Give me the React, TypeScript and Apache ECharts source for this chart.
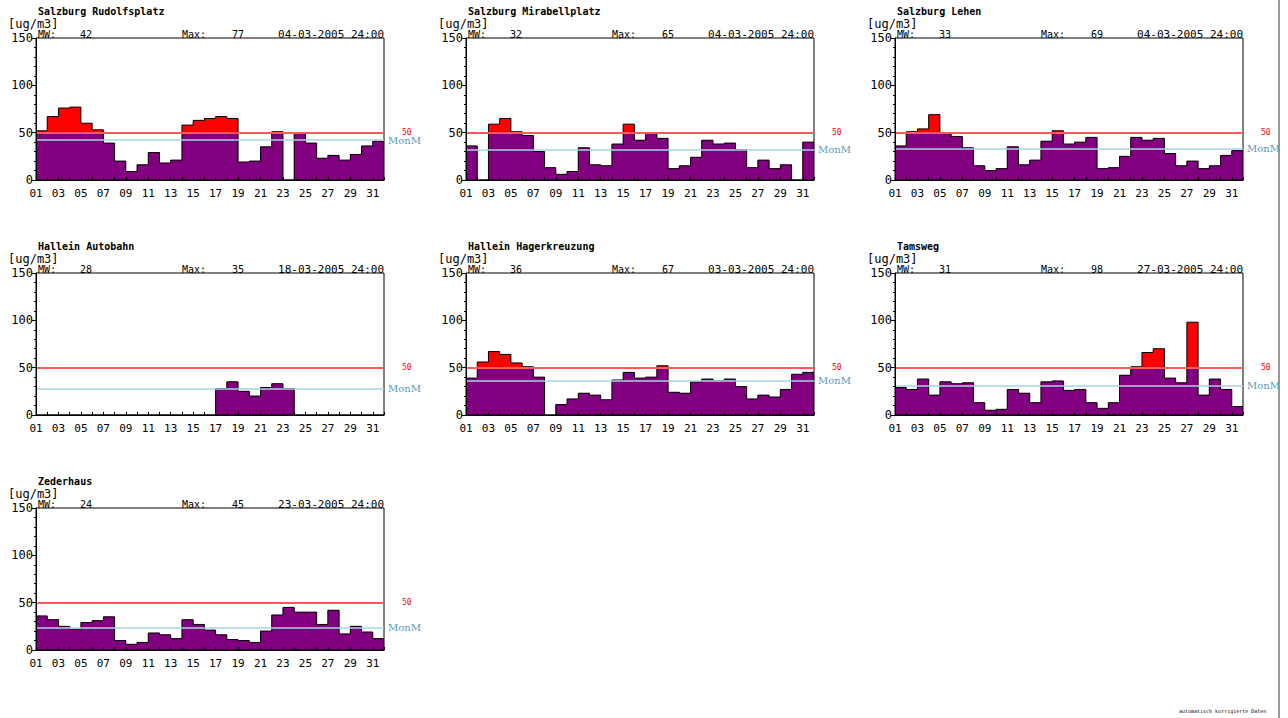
import React, { useEffect, useRef } from "react";
import * as echarts from "echarts";

// ---------- data ----------
const days = [
  "01", "02", "03", "04", "05", "06", "07", "08", "09", "10", "11", "12", "13", "14", "15", "16",
  "17", "18", "19", "20", "21", "22", "23", "24", "25", "26", "27", "28", "29", "30", "31",
];
const yTicks = [0, 50, 100, 150];
const limitValue = 50;

const stationNames = [
  "Salzburg Rudolfsplatz",
  "Salzburg Mirabellplatz",
  "Salzburg Lehen",
  "Hallein Autobahn",
  "Hallein Hagerkreuzung",
  "Tamsweg",
  "Zederhaus",
];
const meanValues = [42, 32, 33, 28, 36, 31, 24];
const maxValues = [77, 65, 69, 35, 67, 98, 45];
const maxDates = [
  "04-03-2005 24:00",
  "04-03-2005 24:00",
  "04-03-2005 24:00",
  "18-03-2005 24:00",
  "03-03-2005 24:00",
  "27-03-2005 24:00",
  "23-03-2005 24:00",
];

const rudolfsplatz = [52, 67, 76, 77, 60, 53, 39, 20, 9, 16, 29, 18, 21, 58, 63, 65, 67, 65, 19, 20, 35, 51, null, 50, 39, 23, 26, 21, 27, 36, 41];
const mirabellplatz = [36, null, 59, 65, 51, 47, 30, 13, 6, 9, 34, 16, 15, 38, 59, 42, 50, 44, 12, 15, 24, 42, 38, 39, 32, 13, 21, 12, 16, null, 40];
const lehen = [36, 51, 54, 69, 49, 46, 34, 15, 10, 12, 35, 16, 21, 41, 52, 38, 40, 45, 12, 13, 25, 45, 42, 44, 28, 15, 20, 12, 15, 26, 31];
const halleinAutobahn = [null, null, null, null, null, null, null, null, null, null, null, null, null, null, null, null, 28, 35, 25, 20, 29, 33, 28, null, null, null, null, null, null, null, null];
const hagerkreuzung = [39, 56, 67, 64, 55, 51, 40, null, 11, 17, 23, 21, 16, 37, 45, 39, 40, 52, 24, 23, 35, 38, 36, 38, 30, 17, 21, 19, 27, 43, 45];
const tamsweg = [29, 27, 38, 21, 35, 33, 34, 13, 5, 6, 27, 23, 13, 35, 36, 26, 27, 13, 7, 13, 42, 51, 66, 70, 39, 34, 98, 21, 38, 27, 9];
const zederhaus = [36, 32, 25, 22, 29, 31, 35, 10, 6, 8, 18, 16, 12, 32, 27, 21, 16, 11, 10, 8, 20, 37, 45, 40, 40, 27, 42, 17, 25, 19, 12];

const stationValues = [rudolfsplatz, mirabellplatz, lehen, halleinAutobahn, hagerkreuzung, tamsweg, zederhaus];

// ---------- layout ----------
const colLeft = [36, 466, 895];
const rowTop = [38, 273, 508];
const plotW = 348;
const plotH = 142;
const MONO = "'DejaVu Sans Mono', 'Liberation Mono', monospace";
const SERIF = "'DejaVu Serif', 'Liberation Serif', serif";
const PURPLE = "#800080";
const RED = "#ff0000";

// step series: one point per day start, plus the closing edge of the last day
function stepPoints(vals: (number | null)[], f: (v: number) => number) {
  const pts = vals.map((v, k) => [k + 1, f(v == null ? 0 : v)]);
  const last = vals[vals.length - 1];
  pts.push([vals.length + 1, f(last == null ? 0 : last)]);
  return pts;
}

function buildOption() {
  const grid: any[] = [];
  const xAxis: any[] = [];
  const yAxis: any[] = [];
  const series: any[] = [];
  const graphic: any[] = [];

  stationNames.forEach((name, i) => {
    const left = colLeft[i % 3];
    const top = rowTop[Math.floor(i / 3)];
    const vals = stationValues[i];
    grid.push({
      left,
      top,
      width: plotW,
      height: plotH,
      show: true,
      borderColor: "#000",
      borderWidth: 1,
      backgroundColor: "transparent",
      z: 5,
    });
    xAxis.push({
      type: "value",
      gridIndex: i,
      min: 1,
      max: days.length + 1,
      interval: 1,
      position: "bottom",
      z: 6,
      axisLine: { show: true, lineStyle: { color: "#000", width: 1 } },
      axisTick: { show: true, inside: true, length: 3, lineStyle: { color: "#000" } },
      splitLine: { show: false },
      axisLabel: {
        show: true,
        margin: 8,
        fontFamily: MONO,
        fontSize: 11,
        color: "#000",
        showMaxLabel: true,
        showMinLabel: true,
        formatter: (v: number) => {
          const idx = Math.round(v) - 1;
          return idx >= 0 && idx < days.length && idx % 2 === 0 ? days[idx] : "";
        },
      },
    });
    yAxis.push({
      type: "value",
      gridIndex: i,
      min: yTicks[0],
      max: yTicks[yTicks.length - 1],
      interval: 50,
      z: 6,
      axisLine: { show: true, lineStyle: { color: "#000", width: 1 } },
      axisTick: { show: true, length: 4, lineStyle: { color: "#000" } },
      minorTick: { show: true, splitNumber: 5, length: 2, lineStyle: { color: "#000" } },
      splitLine: { show: false },
      axisLabel: {
        margin: 3,
        fontFamily: MONO,
        fontSize: 12,
        color: "#000",
      },
    });

    // red: full daily value (exceedance part stays visible above the purple fill)
    series.push({
      type: "line",
      xAxisIndex: i,
      yAxisIndex: i,
      step: "end",
      symbol: "none",
      data: stepPoints(vals, (v) => v),
      lineStyle: { width: 0, opacity: 0 },
      areaStyle: { color: RED, opacity: 1 },
      z: 1,
    });
    // purple: daily value capped at the limit
    series.push({
      type: "line",
      xAxisIndex: i,
      yAxisIndex: i,
      step: "end",
      symbol: "none",
      data: stepPoints(vals, (v) => Math.min(v, limitValue)),
      lineStyle: { width: 0, opacity: 0 },
      areaStyle: { color: PURPLE, opacity: 1 },
      z: 2,
    });
    // black outline + limit and monthly-mean lines
    series.push({
      type: "line",
      xAxisIndex: i,
      yAxisIndex: i,
      step: "end",
      symbol: "none",
      data: stepPoints(vals, (v) => v),
      lineStyle: { color: "#000", width: 1 },
      z: 3,
      markLine: {
        silent: true,
        symbol: "none",
        animation: false,
        data: [
          {
            yAxis: limitValue,
            lineStyle: { color: "#ff5a5a", width: 2, type: "solid" },
            label: {
              show: true,
              position: "end",
              distance: 18,
              formatter: String(limitValue),
              color: "#ff0000",
              fontFamily: MONO,
              fontSize: 8,
              padding: [0, 0, 6, 0],
            },
          },
          {
            yAxis: meanValues[i],
            lineStyle: { color: "#a9d3e3", width: 1.5, type: "solid" },
            label: {
              show: true,
              position: "end",
              distance: 4,
              formatter: "MonM",
              color: "#5a9bbb",
              fontFamily: SERIF,
              fontSize: 10,
            },
          },
        ],
      },
    });

    graphic.push({
      type: "text",
      left: left + 2,
      top: top - 32,
      style: { text: name, fill: "#000", font: `bold 10px ${MONO}` },
    });
    graphic.push({
      type: "text",
      left: left - 28,
      top: top - 20,
      style: { text: "[ug/m3]", fill: "#000", font: `12px ${MONO}` },
    });
    graphic.push({
      type: "text",
      left: left + 2,
      top: top - 9,
      style: { text: "MW:", fill: "#000", font: `10px ${MONO}` },
    });
    graphic.push({
      type: "text",
      left: left + 44,
      top: top - 9,
      style: { text: String(meanValues[i]), fill: "#000", font: `10px ${MONO}` },
    });
    graphic.push({
      type: "text",
      left: left + 146,
      top: top - 9,
      style: { text: "Max:", fill: "#000", font: `10px ${MONO}` },
    });
    graphic.push({
      type: "text",
      left: left + 196,
      top: top - 9,
      style: { text: String(maxValues[i]), fill: "#000", font: `10px ${MONO}` },
    });
    graphic.push({
      type: "text",
      right: 1288 - (left + plotW),
      top: top - 9,
      style: { text: maxDates[i], fill: "#000", font: `11px ${MONO}` },
    });
  });

  graphic.push({
    type: "line",
    shape: { x1: 1279, y1: 0, x2: 1279, y2: 718 },
    style: { stroke: "#9a9a9a", lineWidth: 2 },
  });
  graphic.push({
    type: "text",
    left: 1179,
    top: 708,
    style: { text: "automatisch korrigierte Daten", fill: "#000", font: `5px ${MONO}` },
  });

  return {
    animation: false,
    backgroundColor: "#fff",
    grid,
    xAxis,
    yAxis,
    series,
    graphic,
  };
}

export default function App() {
  const ref = useRef<HTMLDivElement>(null);
  useEffect(() => {
    if (!ref.current) return;
    const chart = echarts.init(ref.current, undefined, { renderer: "svg" });
    chart.setOption(buildOption() as any);
    return () => chart.dispose();
  }, []);
  return (
    <div
      ref={ref}
      style={{ position: "fixed", left: 0, top: 0, width: 1288, height: 718, background: "#fff" }}
    />
  );
}
